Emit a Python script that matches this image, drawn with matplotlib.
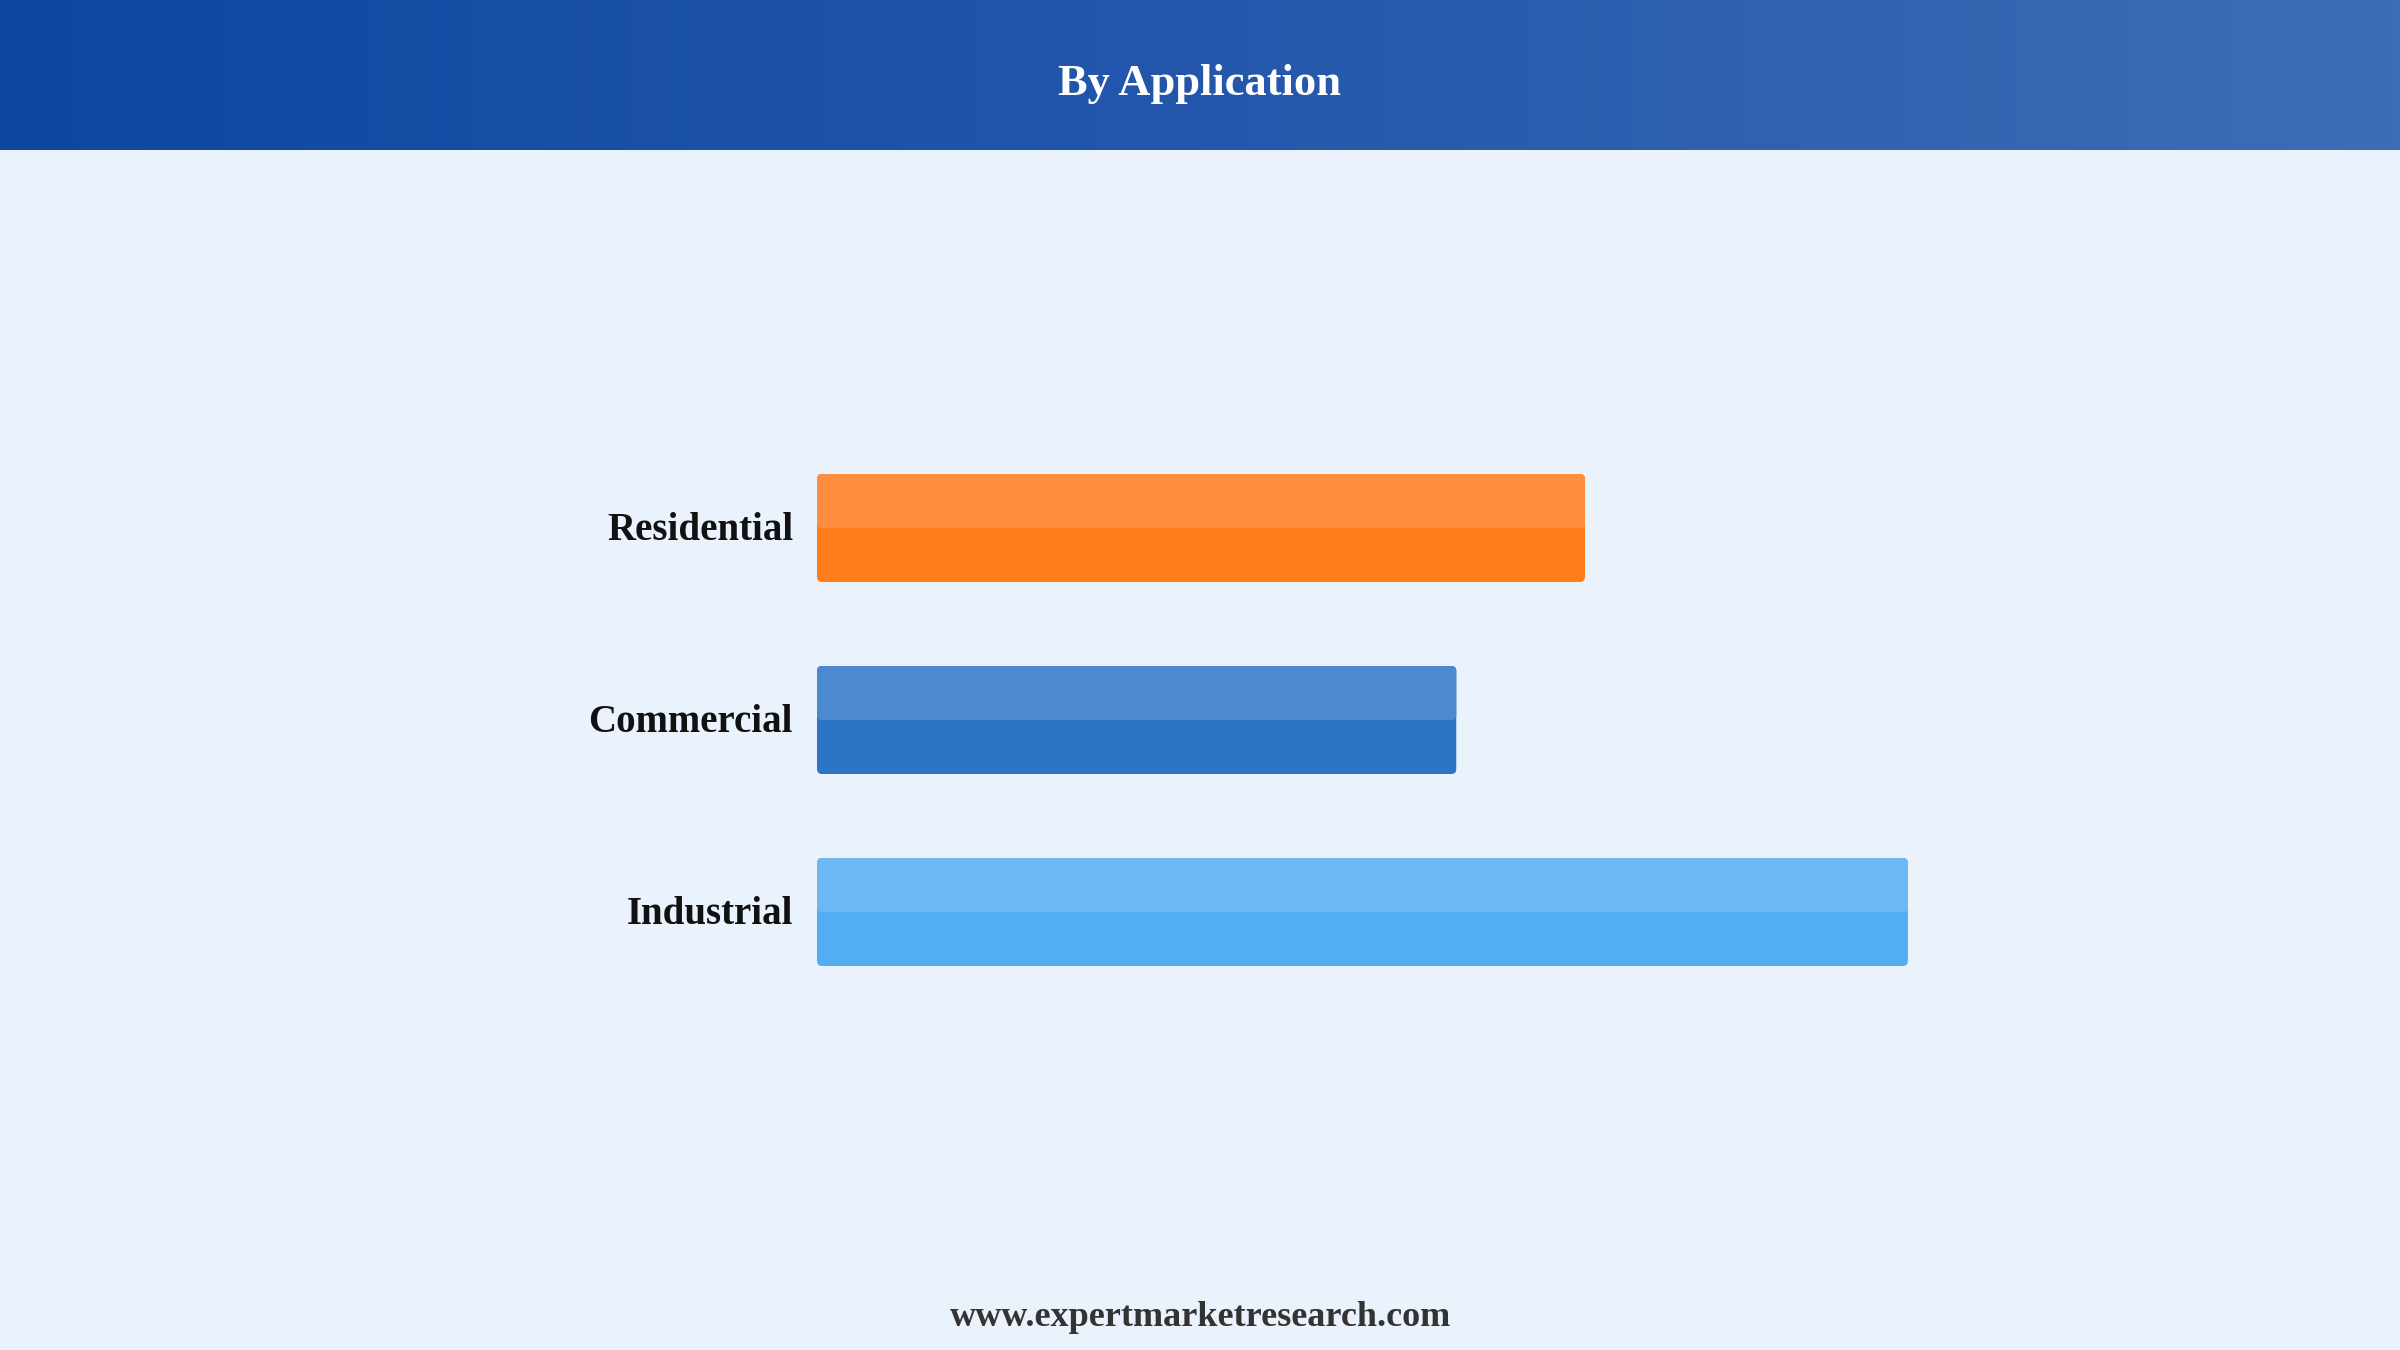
import matplotlib.pyplot as plt
import numpy as np
from matplotlib.patches import FancyBboxPatch
from matplotlib.colors import LinearSegmentedColormap

# data
categories = ['Residential', 'Commercial', 'Industrial']
values = [35.2, 29.3, 50.0]
dark_colors = ['#FF7E1A', '#2B74C6', '#52ADF3']
light_colors = ['#FF8F3F', '#4C89CF', '#6CB8F5']

title = 'By Application'
footer = 'www.expertmarketresearch.com'

bg = '#EAF2FC'
serif = ['Liberation Serif', 'DejaVu Serif']

fig = plt.figure(figsize=(24, 13.5), dpi=100)
fig.patch.set_facecolor(bg)

# header band with horizontal gradient
hdr = fig.add_axes([0, 1 - 150 / 1350, 1, 150 / 1350])
cmap = LinearSegmentedColormap.from_list('hdr', ['#0D47A1', '#2457AC', '#3D6DB5'])
hdr.imshow(np.linspace(0, 1, 256).reshape(1, -1), aspect='auto', cmap=cmap,
           extent=[0, 1, 0, 1])
hdr.set_axis_off()
fig.text(0.5, 1 - 84 / 1350, title, ha='center', va='center', color='white',
         fontsize=32, fontweight='bold', family=serif)

# bar axes
ax = fig.add_axes([817 / 2400, 150 / 1350, 1200 / 2400, 960 / 1350])
ax.set_facecolor(bg)
ax.set_xlim(0, 55)
ax.set_ylim(3.5, -1.5)
ax.set_axis_off()

bar_h = 108 / 192
px_x = 55 / 1200.0    # data units per pixel in x
px_y = 5.0 / 960      # data units per pixel in y
r = 5 * px_x
asp = px_y / px_x

for i, (cat, v) in enumerate(zip(categories, values)):
    top = i - bar_h / 2
    full = FancyBboxPatch((0, top), v, bar_h,
                          boxstyle='round,pad=0,rounding_size=%f' % r,
                          mutation_aspect=asp, facecolor=dark_colors[i],
                          edgecolor='none')
    ax.add_patch(full)
    upper = FancyBboxPatch((0, top), v, bar_h / 2,
                           boxstyle='round,pad=0,rounding_size=%f' % r,
                           mutation_aspect=asp, facecolor=light_colors[i],
                           edgecolor='none')
    ax.add_patch(upper)
    ax.text(-24 * px_x, i + 3 * px_y, cat, ha='right', va='center', fontsize=28,
            fontweight='bold', color='#111111', family=serif)

fig.text(0.5, 1 - 1317 / 1350, footer, ha='center', va='center',
         fontsize=26, fontweight='bold', color='#333333', family=serif)

plt.savefig('out.png', dpi=100, facecolor=bg)
